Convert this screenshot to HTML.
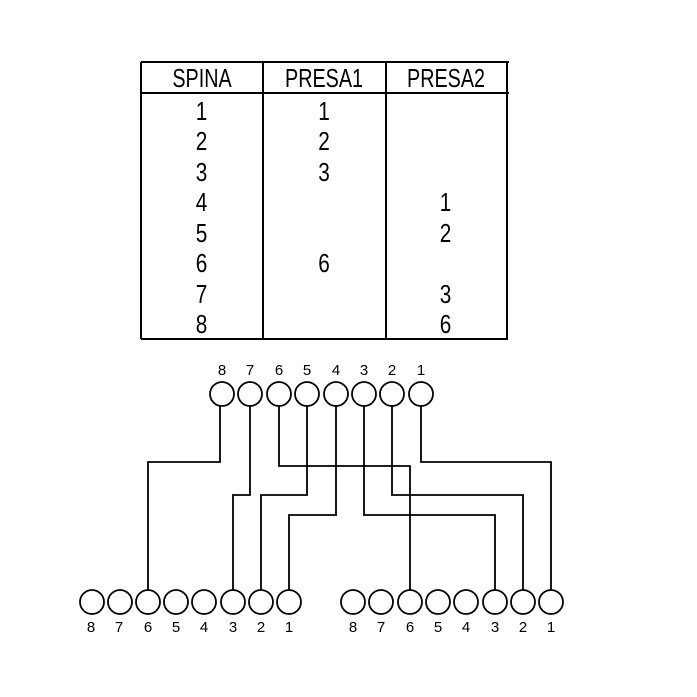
<!DOCTYPE html>
<html><head><style>
html,body{margin:0;padding:0;background:#fff;}
svg{display:block;}
.t{font-family:"Liberation Sans",sans-serif;font-size:26px;fill:#000;}
.s{font-family:"Liberation Sans",sans-serif;font-size:15px;fill:#000;}
</style></head><body>
<svg width="697" height="697" viewBox="0 0 697 697">
<g stroke="#000" stroke-width="2" fill="none">
<line x1="141" y1="62" x2="509" y2="62"/>
<line x1="141" y1="93" x2="509" y2="93"/>
<line x1="141" y1="339" x2="508" y2="339"/>
<line x1="141" y1="62" x2="141" y2="339"/>
<line x1="263" y1="62" x2="263" y2="339"/>
<line x1="386" y1="62" x2="386" y2="339"/>
<line x1="507" y1="62" x2="507" y2="339"/>
</g>
<g class="t" text-anchor="middle">
<text transform="translate(202,87) scale(0.76,1)" x="0" y="0">SPINA</text>
<text transform="translate(324,87) scale(0.76,1)">PRESA1</text>
<text transform="translate(446,87) scale(0.76,1)">PRESA2</text>
<g transform="scale(0.8,1)">
<text x="252" y="120">1</text><text x="405" y="120">1</text>
<text x="252" y="150">2</text><text x="405" y="150">2</text>
<text x="252" y="181">3</text><text x="405" y="181">3</text>
<text x="252" y="211">4</text><text x="557" y="211">1</text>
<text x="252" y="242">5</text><text x="557" y="242">2</text>
<text x="252" y="272">6</text><text x="405" y="272">6</text>
<text x="252" y="303">7</text><text x="557" y="303">3</text>
<text x="252" y="333">8</text><text x="557" y="333">6</text>
</g>
</g>
<g stroke="#000" stroke-width="1.8" fill="none">
<circle cx="222" cy="394" r="12"/><circle cx="250" cy="394" r="12"/><circle cx="279" cy="394" r="12"/><circle cx="307" cy="394" r="12"/>
<circle cx="336" cy="394" r="12"/><circle cx="364" cy="394" r="12"/><circle cx="392" cy="394" r="12"/><circle cx="421" cy="394" r="12"/>
<circle cx="92" cy="602" r="12"/><circle cx="120" cy="602" r="12"/><circle cx="148" cy="602" r="12"/><circle cx="176" cy="602" r="12"/>
<circle cx="204" cy="602" r="12"/><circle cx="233" cy="602" r="12"/><circle cx="261" cy="602" r="12"/><circle cx="289" cy="602" r="12"/>
<circle cx="353" cy="602" r="12"/><circle cx="381" cy="602" r="12"/><circle cx="410" cy="602" r="12"/><circle cx="438" cy="602" r="12"/>
<circle cx="466" cy="602" r="12"/><circle cx="495" cy="602" r="12"/><circle cx="523" cy="602" r="12"/><circle cx="551" cy="602" r="12"/>
<polyline points="220,406 220,462 148,462 148,590"/>
<polyline points="250,406 250,495 233,495 233,590"/>
<polyline points="279,406 279,466 410,466 410,590"/>
<polyline points="307,406 307,495 261,495 261,590"/>
<polyline points="336,406 336,515 289,515 289,590"/>
<polyline points="364,406 364,515 495,515 495,590"/>
<polyline points="392,406 392,495 523,495 523,590"/>
<polyline points="421,406 421,462 551,462 551,590"/>
</g>
<g class="s" text-anchor="middle">
<text x="222" y="375">8</text><text x="250" y="375">7</text><text x="279" y="375">6</text><text x="307" y="375">5</text>
<text x="336" y="375">4</text><text x="364" y="375">3</text><text x="392" y="375">2</text><text x="421" y="375">1</text>
<text x="91" y="632">8</text><text x="119" y="632">7</text><text x="148" y="632">6</text><text x="176" y="632">5</text>
<text x="204" y="632">4</text><text x="233" y="632">3</text><text x="261" y="632">2</text><text x="289" y="632">1</text>
<text x="353" y="632">8</text><text x="381" y="632">7</text><text x="410" y="632">6</text><text x="438" y="632">5</text>
<text x="466" y="632">4</text><text x="495" y="632">3</text><text x="523" y="632">2</text><text x="551" y="632">1</text>
</g>
</svg>
</body></html>
